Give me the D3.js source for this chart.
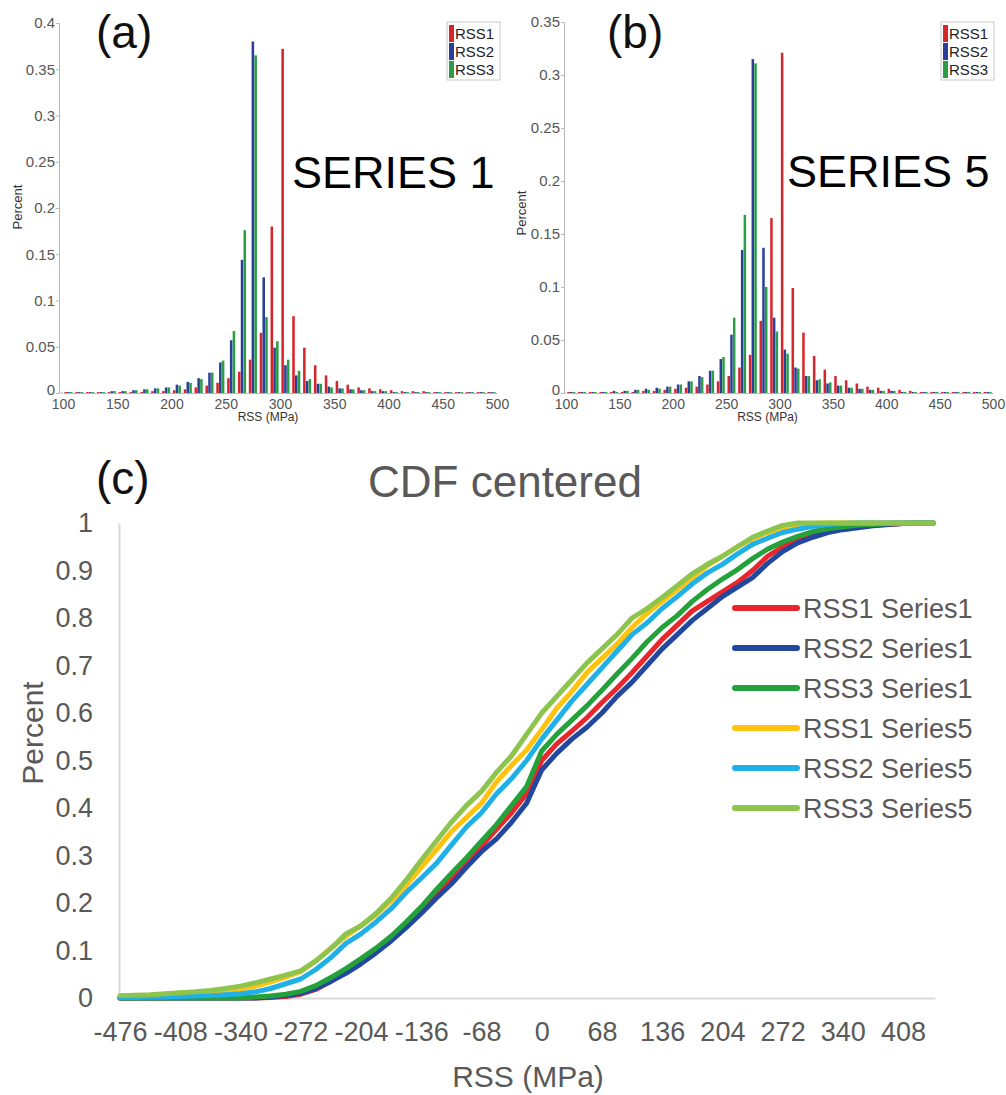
<!DOCTYPE html>
<html><head><meta charset="utf-8">
<script src="https://cdn.jsdelivr.net/npm/d3@7"></script>
<style>
body{margin:0;background:#fff}
svg{display:block}
text{font-family:"Liberation Sans",Arial,sans-serif}
</style>
</head><body>
<svg id="chart" width="1006" height="1095"></svg>
<script>
// ---------- Histogram data (bins of 10 MPa, given by their lower edge) ----------
const binStarts = [100,110,120,130,140,150,160,170,180,190,200,210,220,230,240,250,260,270,280,290,
                   300,310,320,330,340,350,360,370,380,390,400,410,420,430,440,450,460,470,480,490];
const histSeries = ["RSS1","RSS2","RSS3"];
const histTicksX = [100,150,200,250,300,350,400,450,500];
const histTicksYa = [0,0.05,0.1,0.15,0.2,0.25,0.3,0.35,0.4];
const histTicksYb = [0,0.05,0.1,0.15,0.2,0.25,0.3,0.35];

const s1RSS1 = [0.001,0.001,0.001,0.001,0.001,0.001,0.001,0.001,0.002,0.002,0.003,0.004,0.006,0.008,0.011,0.016,0.023,0.036,0.065,0.180,
                0.372,0.083,0.049,0.030,0.019,0.013,0.009,0.006,0.005,0.004,0.003,0.002,0.002,0.002,0.001,0.001,0.001,0.001,0.001,0.001];
const s1RSS2 = [0.001,0.001,0.001,0.001,0.002,0.002,0.003,0.004,0.005,0.006,0.009,0.012,0.016,0.022,0.033,0.057,0.144,0.380,0.125,0.049,
                0.030,0.019,0.013,0.010,0.007,0.005,0.004,0.003,0.002,0.002,0.001,0.001,0.001,0.001,0.001,0.001,0.001,0.001,0.001,0.001];
const s1RSS3 = [0.001,0.001,0.001,0.001,0.002,0.002,0.003,0.004,0.005,0.006,0.008,0.011,0.015,0.022,0.035,0.067,0.176,0.365,0.082,0.056,
                0.036,0.024,0.015,0.010,0.006,0.005,0.004,0.003,0.002,0.002,0.001,0.001,0.001,0.001,0.001,0.001,0.001,0.001,0.001,0.001];

const s5RSS1 = [0.001,0.001,0.001,0.001,0.001,0.001,0.001,0.002,0.002,0.003,0.004,0.005,0.006,0.008,0.011,0.016,0.024,0.036,0.068,0.165,
                0.321,0.099,0.057,0.035,0.022,0.016,0.012,0.009,0.006,0.005,0.004,0.003,0.002,0.001,0.001,0.001,0.001,0.001,0.001,0.001];
const s5RSS2 = [0.001,0.001,0.001,0.001,0.002,0.002,0.003,0.004,0.005,0.006,0.008,0.011,0.016,0.021,0.032,0.055,0.135,0.315,0.137,0.071,
                0.041,0.024,0.016,0.012,0.009,0.007,0.005,0.004,0.003,0.002,0.002,0.001,0.001,0.001,0.001,0.001,0.001,0.001,0.001,0.001];
const s5RSS3 = [0.001,0.001,0.001,0.001,0.001,0.002,0.003,0.003,0.004,0.006,0.008,0.011,0.015,0.021,0.034,0.071,0.168,0.311,0.100,0.058,
                0.037,0.023,0.016,0.013,0.010,0.007,0.005,0.004,0.003,0.002,0.002,0.001,0.001,0.001,0.001,0.001,0.001,0.001,0.001,0.001];

// ---------- CDF data ----------
const cdfX = [-476,-459,-442,-425,-408,-391,-374,-357,-340,-323,-306,-289,-272,-255,-238,-221,-204,-187,-170,-153,-136,-119,-102,-85,-68,-51,-34,-17,
              0,17,34,51,68,85,102,119,136,153,170,187,204,221,238,255,272,289,306,323,340,357,374,391,408,425,442];
const cdfTicksX = [-476,-408,-340,-272,-204,-136,-68,0,68,136,204,272,340,408];
const cdfTicksY = [0,0.1,0.2,0.3,0.4,0.5,0.6,0.7,0.8,0.9,1];
const cdfNames = ["RSS1 Series1","RSS2 Series1","RSS3 Series1","RSS1 Series5","RSS2 Series5","RSS3 Series5"];

const cdfRSS1S1 = [0,0,0,0,0,0,0,0,0,0,0.001,0.003,0.008,0.018,0.035,0.055,0.078,0.100,0.125,0.155,0.185,0.220,0.252,0.285,0.320,0.355,0.390,0.430,
                   0.500,0.535,0.562,0.590,0.622,0.652,0.685,0.720,0.755,0.785,0.815,0.835,0.855,0.875,0.900,0.930,0.950,0.965,0.975,0.982,0.988,0.992,0.995,0.997,0.999,1,1];
const cdfRSS2S1 = [0,0,0,0,0,0,0,0,0,0,0.002,0.005,0.010,0.020,0.035,0.052,0.072,0.095,0.120,0.148,0.178,0.210,0.240,0.275,0.308,0.335,0.370,0.410,
                   0.480,0.515,0.545,0.570,0.600,0.635,0.665,0.700,0.735,0.765,0.795,0.820,0.845,0.865,0.885,0.915,0.940,0.958,0.970,0.980,0.986,0.990,0.994,0.997,0.999,1,1];
const cdfRSS3S1 = [0,0,0,0,0,0,0,0,0,0.002,0.004,0.008,0.014,0.026,0.043,0.062,0.083,0.105,0.130,0.160,0.192,0.228,0.262,0.295,0.330,0.365,0.405,0.445,
                   0.520,0.555,0.585,0.615,0.648,0.682,0.715,0.750,0.780,0.805,0.835,0.860,0.882,0.902,0.925,0.945,0.960,0.972,0.982,0.988,0.992,0.995,0.997,0.999,1,1,1];
const cdfRSS1S5 = [0.003,0.004,0.005,0.006,0.008,0.010,0.012,0.015,0.019,0.025,0.034,0.044,0.056,0.078,0.105,0.130,0.152,0.175,0.205,0.237,0.275,0.312,0.350,0.380,0.410,0.455,0.490,0.522,
                   0.565,0.610,0.645,0.685,0.715,0.745,0.780,0.810,0.835,0.860,0.885,0.910,0.930,0.950,0.967,0.980,0.990,0.996,0.999,1,1,1,1,1,1,1,1];
const cdfRSS2S5 = [0.001,0.001,0.002,0.002,0.003,0.004,0.005,0.007,0.009,0.013,0.020,0.030,0.040,0.060,0.085,0.115,0.135,0.160,0.188,0.222,0.252,0.283,0.322,0.360,0.390,0.430,0.462,0.500,
                   0.545,0.585,0.625,0.660,0.695,0.730,0.765,0.790,0.820,0.845,0.872,0.895,0.913,0.935,0.955,0.968,0.980,0.987,0.993,0.997,0.999,1,1,1,1,1,1];
const cdfRSS3S5 = [0.005,0.006,0.007,0.009,0.011,0.013,0.016,0.020,0.025,0.032,0.040,0.048,0.057,0.078,0.104,0.135,0.152,0.178,0.210,0.248,0.290,0.330,0.370,0.405,0.435,0.475,0.510,0.555,
                   0.600,0.635,0.670,0.705,0.735,0.765,0.800,0.820,0.843,0.868,0.893,0.913,0.930,0.950,0.970,0.983,0.995,1,1,1,1,1,1,1,1,1,1];

// ---------- styles ----------
const histColors = ["#d7262b","#2b3f98","#2a9d45"];
const cdfColors = ["#e8262d","#22479e","#24a13a","#ffc20e","#1fb0e8","#8dc44e"];
const narrow = '"Liberation Sans Narrow","Liberation Sans",Arial,sans-serif';

const svg = d3.select("#chart");

function histogramPanel(cfg) {
  const g = svg.append("g");
  const x = d3.scaleLinear().domain([100,500]).range(cfg.xr);
  const y = d3.scaleLinear().domain([0,cfg.ymax]).range(cfg.yr);
  const inner = d3.scaleBand().domain([0,1,2]).range([0, x(110)-x(100)]).paddingInner(0.08).paddingOuter(0.5);
  const fmt = d => d === 0 ? "0" : String(+d.toFixed(2));

  // axes
  const ya = g.append("g").attr("transform",`translate(${cfg.axisX},0)`)
    .call(d3.axisLeft(y).tickValues(cfg.yticks).tickFormat(fmt).tickSize(3).tickPadding(1));
  const xa = g.append("g").attr("transform",`translate(0,${cfg.yr[0]})`)
    .call(d3.axisBottom(x).tickValues(histTicksX).tickFormat(d => String(d)).tickSize(0).tickPadding(6));
  [ya,xa].forEach(a => {
    a.selectAll("path").attr("stroke","#b8b8b8");
    a.selectAll("line").attr("stroke","#b8b8b8");
    a.selectAll("text").attr("fill","#555").attr("font-size",15).style("font-family",narrow);
  });
  ya.selectAll("text").filter(d => d === 0).attr("dy","0.1em");
  xa.selectAll("text").attr("font-size",14);
  g.append("line").attr("x1",cfg.axisX).attr("x2",cfg.xr[0]).attr("y1",cfg.yr[0]).attr("y2",cfg.yr[0]).attr("stroke","#b8b8b8");

  // bars
  cfg.series.forEach((vals,k) => {
    g.append("g").selectAll("rect").data(vals).join("rect")
      .attr("x",(d,i) => x(binStarts[i]) + inner(k))
      .attr("width",inner.bandwidth())
      .attr("y",d => y(d))
      .attr("height",d => y(0)-y(d))
      .attr("fill",histColors[k]);
  });

  // titles
  g.append("text").attr("transform",`translate(${cfg.ytitle[0]},${cfg.ytitle[1]}) rotate(-90)`)
    .attr("text-anchor","middle").attr("font-size",13).attr("fill","#333").text("Percent");
  g.append("text").attr("x",(cfg.xr[0]+cfg.xr[1])/2 - 12).attr("y",cfg.yr[0]+28)
    .attr("text-anchor","middle").attr("font-size",12).attr("fill","#333").text("RSS (MPa)");
  g.append("text").attr("x",cfg.tag[0]).attr("y",cfg.tag[1]).attr("font-size",46).attr("fill","#111").text(cfg.tagText);
  g.append("text").attr("x",cfg.big[0]).attr("y",cfg.big[1]).attr("font-size",45).attr("fill","#000").text(cfg.bigText);

  // legend
  const lg = g.append("g").attr("transform",`translate(${cfg.legend[0]},${cfg.legend[1]})`);
  lg.append("rect").attr("width",53).attr("height",58).attr("fill","#fff").attr("stroke","#c8c8c8");
  histSeries.forEach((s,k) => {
    lg.append("rect").attr("x",2).attr("y",3+k*18).attr("width",5).attr("height",17).attr("fill",histColors[k]);
    lg.append("text").attr("x",8).attr("y",17+k*18).attr("font-size",15).attr("fill","#222")
      .style("font-family",narrow).text(s);
  });
}

histogramPanel({xr:[63,497], yr:[393,23], ymax:0.4, yticks:histTicksYa, axisX:59,
  series:[s1RSS1,s1RSS2,s1RSS3], ytitle:[22,207], tag:[96,48], tagText:"(a)",
  big:[292,188], bigText:"SERIES 1", legend:[447,22]});
histogramPanel({xr:[566,993], yr:[393,22], ymax:0.35, yticks:histTicksYb, axisX:564,
  series:[s5RSS1,s5RSS2,s5RSS3], ytitle:[526,213], tag:[607,48], tagText:"(b)",
  big:[787,187], bigText:"SERIES 5", legend:[941,22]});

// ---------- CDF panel ----------
(function(){
  const g = svg.append("g");
  const x = d3.scaleLinear().domain([-476,444]).range([120,935]);
  const y = d3.scaleLinear().domain([0,1]).range([998,523]);

  const xa = g.append("g").attr("transform","translate(0,998)")
    .call(d3.axisBottom(x).tickValues(cdfTicksX).tickFormat(d => String(d)).tickSize(0).tickPadding(24));
  const ya = g.append("g").attr("transform","translate(119,0)")
    .call(d3.axisLeft(y).tickValues(cdfTicksY).tickFormat(d => String(+d.toFixed(1))).tickSize(0).tickPadding(26));
  [xa,ya].forEach(a => {
    a.select("path").attr("stroke","#d9d9d9").attr("stroke-width",2);
    a.selectAll("text").attr("fill","#595959").attr("font-size",27);
  });
  xa.selectAll("text").attr("dy","0.71em");

  const series = [cdfRSS1S1,cdfRSS2S1,cdfRSS3S1,cdfRSS1S5,cdfRSS2S5,cdfRSS3S5];
  const line = d3.line().x((d,i) => x(cdfX[i])).y(d => y(d));
  series.forEach((vals,k) => {
    g.append("path").datum(vals).attr("d",line).attr("fill","none")
      .attr("stroke",cdfColors[k]).attr("stroke-width",5)
      .attr("stroke-linejoin","round").attr("stroke-linecap","round");
  });

  // legend
  cdfNames.forEach((n,k) => {
    const yy = 608 + k*40;
    g.append("line").attr("x1",735).attr("x2",797).attr("y1",yy).attr("y2",yy)
      .attr("stroke",cdfColors[k]).attr("stroke-width",6).attr("stroke-linecap","round");
    g.append("text").attr("x",803).attr("y",yy+10).attr("font-size",27).attr("fill","#595959").text(n);
  });

  g.append("text").attr("x",505).attr("y",497).attr("text-anchor","middle").attr("font-size",44).attr("fill","#595959").text("CDF centered");
  g.append("text").attr("x",96).attr("y",494).attr("font-size",46).attr("fill","#111").text("(c)");
  g.append("text").attr("transform","translate(43,733) rotate(-90)").attr("text-anchor","middle")
    .attr("font-size",30).attr("fill","#595959").text("Percent");
  g.append("text").attr("x",528).attr("y",1087).attr("text-anchor","middle").attr("font-size",30).attr("fill","#595959").text("RSS (MPa)");
})();
</script>
</body></html>
